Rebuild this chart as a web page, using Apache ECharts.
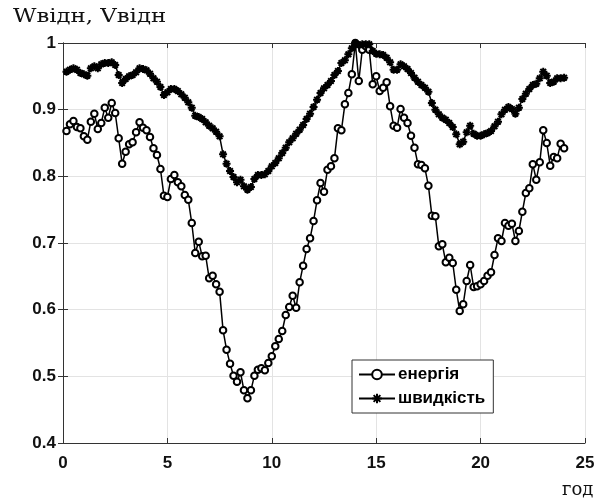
<!DOCTYPE html>
<html>
<head>
<meta charset="utf-8">
<script src="https://cdn.jsdelivr.net/npm/echarts@6/dist/echarts.min.js"></script>
<style>
  html, body { margin: 0; padding: 0; background: #fff; }
  #chart { width: 602px; height: 502px; }
</style>
</head>
<body>
<div id="chart"></div>
<script>
// time of each sample, minutes from midnight (10-minute step)
const minutes = [
  10, 20, 30, 40, 50, 60, 70, 80, 90, 100, 110, 120,
  130, 140, 150, 160, 170, 180, 190, 200, 210, 220, 230, 240,
  250, 260, 270, 280, 290, 300, 310, 320, 330, 340, 350, 360,
  370, 380, 390, 400, 410, 420, 430, 440, 450, 460, 470, 480,
  490, 500, 510, 520, 530, 540, 550, 560, 570, 580, 590, 600,
  610, 620, 630, 640, 650, 660, 670, 680, 690, 700, 710, 720,
  730, 740, 750, 760, 770, 780, 790, 800, 810, 820, 830, 840,
  850, 860, 870, 880, 890, 900, 910, 920, 930, 940, 950, 960,
  970, 980, 990, 1000, 1010, 1020, 1030, 1040, 1050, 1060, 1070, 1080,
  1090, 1100, 1110, 1120, 1130, 1140, 1150, 1160, 1170, 1180, 1190, 1200,
  1210, 1220, 1230, 1240, 1250, 1260, 1270, 1280, 1290, 1300, 1310, 1320,
  1330, 1340, 1350, 1360, 1370, 1380, 1390, 1400, 1410, 1420, 1430, 1440
];

const energy = [
  0.868, 0.878, 0.883, 0.874, 0.872, 0.860, 0.855, 0.882, 0.894, 0.871, 0.880, 0.903,
  0.888, 0.910, 0.895, 0.857, 0.819, 0.837, 0.848, 0.851, 0.866, 0.881, 0.873, 0.869,
  0.859, 0.842, 0.832, 0.811, 0.771, 0.769, 0.796, 0.802, 0.791, 0.785, 0.772, 0.765,
  0.730, 0.685, 0.702, 0.680, 0.681, 0.647, 0.651, 0.638, 0.627, 0.569, 0.540, 0.519,
  0.501, 0.492, 0.506, 0.479, 0.467, 0.479, 0.501, 0.510, 0.512, 0.509, 0.520, 0.530,
  0.545, 0.556, 0.568, 0.592, 0.604, 0.621, 0.603, 0.641, 0.666, 0.691, 0.707, 0.733,
  0.764, 0.790, 0.777, 0.810, 0.815, 0.827, 0.872, 0.869, 0.908, 0.925, 0.953, 1.000,
  0.943, 0.990, 0.995, 0.990, 0.938, 0.950, 0.928, 0.933, 0.941, 0.905, 0.876, 0.873,
  0.901, 0.888, 0.880, 0.861, 0.843, 0.818, 0.817, 0.812, 0.786, 0.741, 0.740, 0.695,
  0.698, 0.671, 0.678, 0.670, 0.630, 0.598, 0.608, 0.643, 0.667, 0.634, 0.635, 0.638,
  0.643, 0.651, 0.656, 0.682, 0.707, 0.703, 0.730, 0.726, 0.729, 0.703, 0.718, 0.747,
  0.775, 0.782, 0.818, 0.795, 0.821, 0.869, 0.850, 0.816, 0.829, 0.827, 0.849, 0.842
];

const speed = [
  0.957, 0.960, 0.962, 0.960, 0.955, 0.953, 0.951, 0.962, 0.965, 0.962, 0.968, 0.970,
  0.970, 0.971, 0.967, 0.952, 0.940, 0.946, 0.950, 0.952, 0.956, 0.962, 0.961, 0.959,
  0.954, 0.947, 0.942, 0.934, 0.922, 0.926, 0.931, 0.931, 0.928, 0.923, 0.918, 0.911,
  0.903, 0.891, 0.889, 0.886, 0.881, 0.876, 0.872, 0.867, 0.860, 0.833, 0.819, 0.808,
  0.799, 0.791, 0.795, 0.785, 0.780, 0.784, 0.796, 0.802, 0.802, 0.803, 0.808, 0.815,
  0.820, 0.827, 0.835, 0.843, 0.851, 0.857, 0.864, 0.870, 0.877, 0.886, 0.894, 0.904,
  0.915, 0.925, 0.932, 0.937, 0.943, 0.952, 0.958, 0.970, 0.974, 0.983, 0.992, 1.000,
  0.997, 0.998, 0.998, 0.998, 0.988, 0.984, 0.983, 0.982, 0.978, 0.971, 0.960, 0.960,
  0.968, 0.965, 0.961, 0.955, 0.948, 0.942, 0.937, 0.933, 0.927, 0.910, 0.900, 0.893,
  0.888, 0.885, 0.880, 0.874, 0.863, 0.848, 0.852, 0.866, 0.876, 0.864, 0.861, 0.861,
  0.863, 0.865, 0.868, 0.875, 0.882, 0.893, 0.900, 0.904, 0.901, 0.894, 0.903, 0.916,
  0.924, 0.931, 0.937, 0.939, 0.947, 0.957, 0.951, 0.940, 0.942, 0.947, 0.947, 0.948
];

const xTicks = [0, 5, 10, 15, 20, 25];
const yTicks = [0.4, 0.5, 0.6, 0.7, 0.8, 0.9, 1];
const seriesNames = ['енергія', 'швидкість'];

const toPairs = (vals) => vals.map((v, i) => [minutes[i] / 60, v]);

const boxColor = '#333';
const labelFont = { color: '#111', fontSize: 17, fontWeight: 'bold', fontFamily: 'Liberation Sans, Arial, sans-serif' };
const starPath = 'path://M5 0L5 10M0 5L10 5M1.5 1.5L8.5 8.5M1.5 8.5L8.5 1.5';

const chart = echarts.init(document.getElementById('chart'));

const option = {
  animation: false,
  backgroundColor: '#fff',
  grid: { left: 63, top: 43, right: 17, bottom: 59, show: false },
  legend: {
    data: seriesNames,
    orient: 'vertical',
    left: 352,
    top: 360,
    itemWidth: 36,
    itemHeight: 12,
    itemGap: 7,
    padding: [6, 8, 6, 6],
    backgroundColor: '#fff',
    borderColor: boxColor,
    borderWidth: 1,
    borderRadius: 0,
    textStyle: { color: '#000', fontSize: 17, fontWeight: 'bold', fontFamily: 'Liberation Sans, Arial, sans-serif', padding: [0, 0, 0, -2] }
  },
  xAxis: [
    {
      type: 'value',
      min: xTicks[0],
      max: xTicks[xTicks.length - 1],
      interval: 5,
      position: 'bottom',
      axisLine: { show: true, lineStyle: { color: boxColor, width: 1 } },
      axisTick: { show: true, inside: true, length: 5, lineStyle: { color: boxColor } },
      axisLabel: Object.assign({ margin: 12 }, labelFont),
      splitLine: { show: true, lineStyle: { color: '#e3e3e3', width: 1 } }
    },
    {
      type: 'value',
      min: xTicks[0],
      max: xTicks[xTicks.length - 1],
      interval: 5,
      position: 'top',
      axisLine: { show: true, lineStyle: { color: boxColor, width: 1 } },
      axisTick: { show: true, inside: true, length: 5, lineStyle: { color: boxColor } },
      axisLabel: { show: false },
      splitLine: { show: false }
    }
  ],
  yAxis: [
    {
      type: 'value',
      min: yTicks[0],
      max: yTicks[yTicks.length - 1],
      interval: 0.1,
      position: 'left',
      axisLine: { show: true, lineStyle: { color: boxColor, width: 1 } },
      axisTick: { show: true, inside: true, length: 5, lineStyle: { color: boxColor } },
      axisLabel: Object.assign({
        margin: 7,
        formatter: (v) => String(Number(v.toFixed(1)))
      }, labelFont),
      splitLine: { show: true, lineStyle: { color: '#e3e3e3', width: 1 } }
    },
    {
      type: 'value',
      min: yTicks[0],
      max: yTicks[yTicks.length - 1],
      interval: 0.1,
      position: 'right',
      axisLine: { show: true, lineStyle: { color: boxColor, width: 1 } },
      axisTick: { show: true, inside: true, length: 5, lineStyle: { color: boxColor } },
      axisLabel: { show: false },
      splitLine: { show: false }
    }
  ],
  graphic: [
    {
      type: 'text',
      x: 13,
      y: 8,
      scaleX: 1.2,
      style: { text: 'Wвідн, Vвідн', fill: '#111', font: '19px "DejaVu Serif", serif' }
    },
    {
      type: 'text',
      x: 562,
      y: 481,
      style: { text: 'год', fill: '#111', font: '18px "DejaVu Serif", serif' }
    }
  ],
  series: [
    {
      name: seriesNames[0],
      type: 'line',
      data: toPairs(energy),
      symbol: 'emptyCircle',
      symbolSize: 6.5,
      showAllSymbol: true,
      lineStyle: { color: '#000', width: 1.5 },
      itemStyle: { color: '#000', borderColor: '#000', borderWidth: 1.8 },
      emphasis: { disabled: true },
      z: 3
    },
    {
      name: seriesNames[1],
      type: 'line',
      data: toPairs(speed),
      symbol: starPath,
      symbolSize: 8,
      showAllSymbol: true,
      lineStyle: { color: '#000', width: 1.5 },
      itemStyle: { color: '#000', borderColor: '#000', borderWidth: 2 },
      emphasis: { disabled: true },
      z: 4
    }
  ]
};

chart.setOption(option);
</script>
</body>
</html>
